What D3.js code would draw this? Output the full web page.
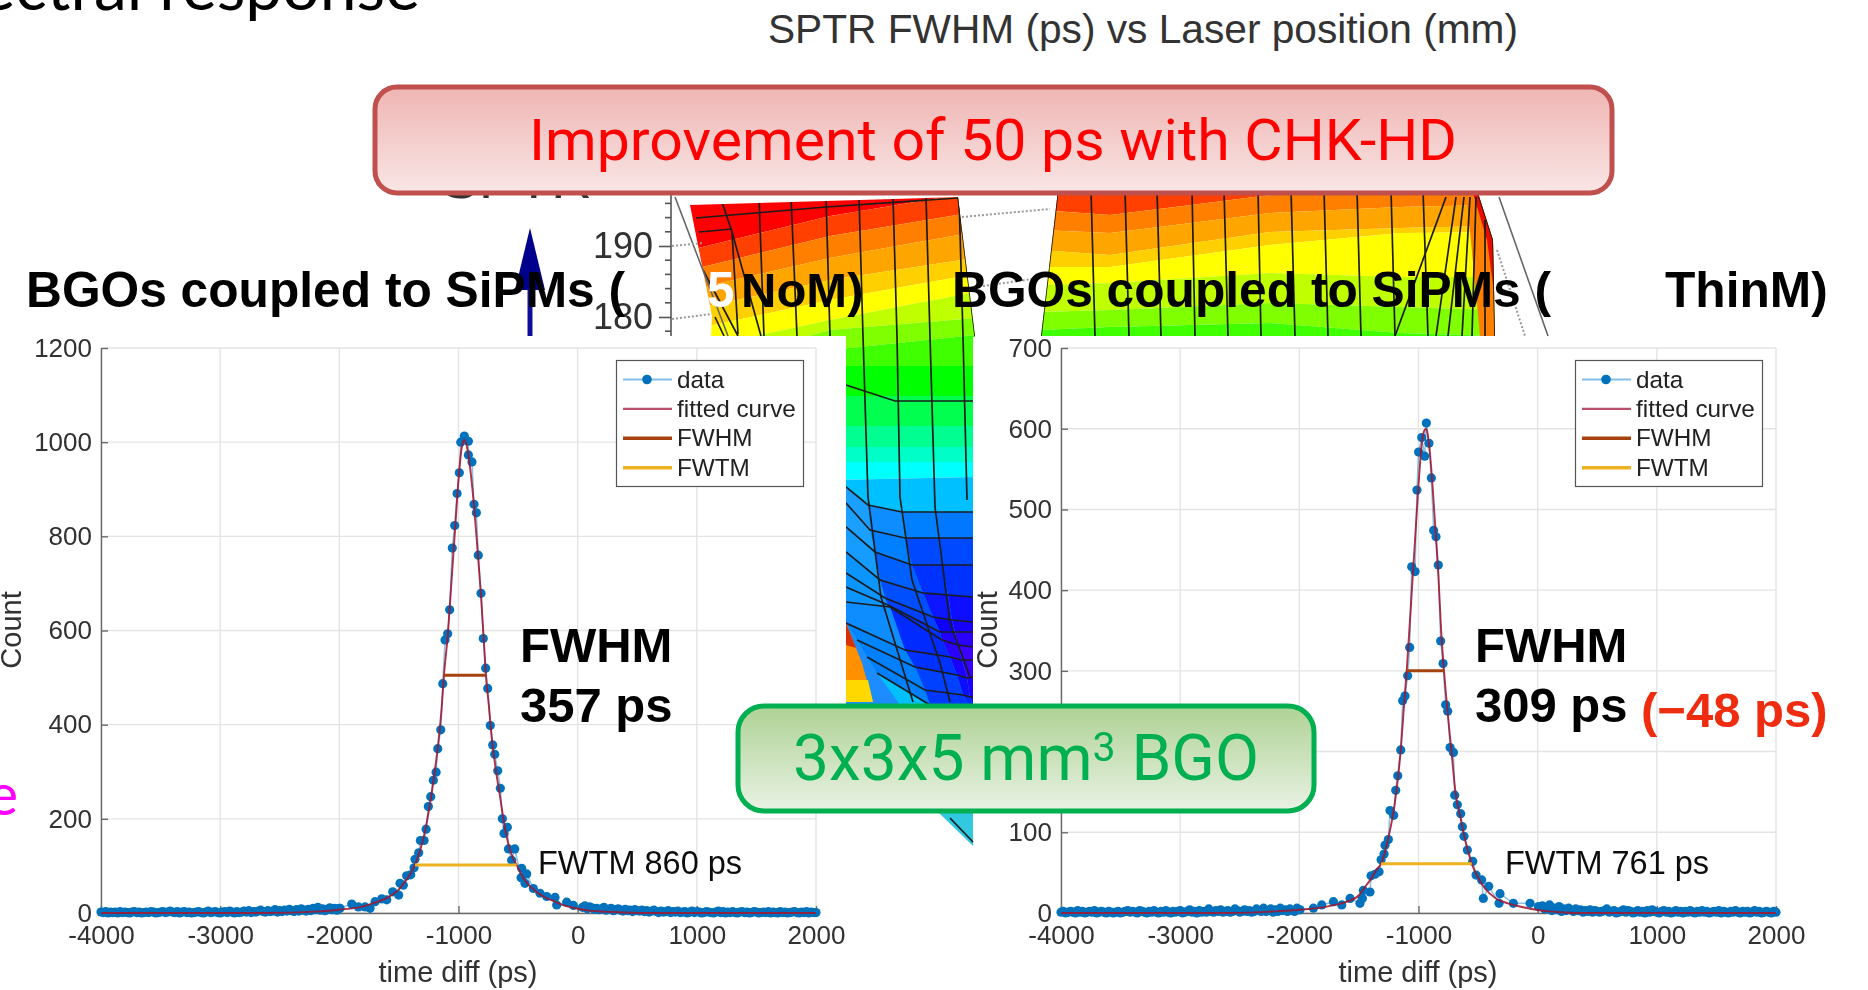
<!DOCTYPE html>
<html>
<head>
<meta charset="utf-8">
<script src="https://cdn.jsdelivr.net/npm/d3@7"></script>
<style>
  html, body { margin: 0; padding: 0; background: #fff; overflow: hidden; }
  text { font-family: "Liberation Sans", Arial, sans-serif; }
  .tick text, .axis-label { fill: #303030; }
  .boxed { font-family: Roboto, sans-serif; }
</style>
</head>
<body>
<svg id="slide" width="1868" height="990"></svg>
<script>
// ---- chart values ----
const xTicks = [-4000, -3000, -2000, -1000, 0, 1000, 2000];
const leftYTicks = [0, 200, 400, 600, 800, 1000, 1200];
const rightYTicks = [0, 100, 200, 300, 400, 500, 600, 700];
const legendLabels = ["data", "fitted curve", "FWHM", "FWTM"];

// tails are binned every 20 ps
const leftTailLow = [2,1,3,0,2,1,2,0,3,1,2,1,0,2,3,1,2,0,1,2,
  1,3,2,0,1,2,3,1,2,4,2,1,3,0,2,3,1,2,0,1,
  2,3,1,0,2,4,1,2,3,1,0,2,3,1,4,2,0,3,1,2,
  4,2,5,1,3,2,4,6,3,2,5,3,4,7,2,5,3,6,4,8,
  5,3,7,4,9,6,4,8,5,10,7,12,6,9,5,8,11,7,10,6,10];
const leftTailHigh = [12,15,9,13,11,8,10,7,9,12,6,8,10,5,7,9,6,4,8,5,
  6,3,7,5,4,6,3,5,2,4,6,3,1,4,2,3,5,1,3,2,
  4,1,2,3,0,2,4,1,3,2,0,1,3,2,1,0,2,4,1,3,
  0,2,1,3,1,0,2,3,1,2,0,1,3,2,0,1,2,1,3,0,
  2,1,0,3,1,2,0,1,2,3,1,0,2,1,3,0,2,1,1];
const rightTailLow = [1,2,0,1,2,1,0,3,1,2,0,1,2,1,3,0,1,2,1,0,
  2,1,0,1,2,0,1,2,3,1,2,1,0,3,2,1,0,2,1,3,
  1,0,2,1,3,1,0,2,1,2,3,0,1,2,4,1,2,0,3,1,
  2,1,5,2,1,3,2,4,1,2,3,1,2,5,3,1,2,4,2,3,
  1,2,5,3,2,6,2,3,5,1,4,2,6,3,4,2,5,3,2,6,4];
const rightTailHigh = [9,5,7,10,3,6,4,8,2,5,3,6,4,2,5,3,4,1,3,2,
  4,1,3,2,1,2,3,5,1,2,3,0,1,2,4,1,3,2,0,1,
  3,1,2,0,3,1,4,2,1,0,2,3,1,2,0,1,3,1,2,0,
  2,1,3,1,0,2,1,3,1,2,0,1,2,1,3,0,2,1,0,2,
  1,3,1,0,2,1,2,0,1,3,1,2,0,1,2,1,0,2,1];

const leftPeak = [[-1994,10],[-1896,19],[-1840,13],[-1784,13],[-1742,10],[-1700,24],[-1644,30],[-1602,28],[-1552,45],[-1502,38],[-1491,63],[-1463,59],[-1435,79],[-1401,81],[-1373,96],[-1365,114],[-1334,128],[-1320,154],[-1289,154],[-1272,178],[-1253,226],[-1233,247],[-1211,282],[-1188,299],[-1174,349],[-1149,389],[-1132,487],[-1113,580],[-1091,593],[-1074,644],[-1052,775],[-1032,823],[-1012,891],[-993,935],[-981,1000],[-951,1013],[-917,1002],[-917,973],[-887,958],[-870,868],[-850,850],[-834,760],[-811,679],[-792,583],[-772,520],[-755,477],[-733,398],[-713,357],[-696,337],[-671,302],[-649,265],[-632,200],[-618,169],[-590,182],[-581,136],[-554,112],[-528,136],[-475,75],[-470,95],[-442,63],[-428,83],[-372,52],[-316,42],[-260,35],[-190,33],[-176,17],[-92,23],[-36,16]];
const rightPeak = [[-1994,4],[-1882,6],[-1812,10],[-1714,14],[-1644,10],[-1574,18],[-1491,12],[-1471,18],[-1463,28],[-1407,26],[-1398,46],[-1365,48],[-1331,51],[-1314,66],[-1289,73],[-1281,84],[-1253,91],[-1239,127],[-1208,121],[-1191,152],[-1174,170],[-1149,202],[-1133,263],[-1113,269],[-1091,294],[-1074,329],[-1057,429],[-1029,423],[-1013,524],[-999,571],[-973,589],[-948,566],[-934,607],[-912,582],[-892,539],[-873,474],[-853,466],[-834,431],[-814,337],[-794,309],[-772,258],[-755,250],[-735,205],[-707,199],[-696,146],[-674,134],[-646,123],[-632,107],[-618,95],[-590,78],[-545,64],[-517,47],[-470,41],[-456,18],[-411,33],[-324,12],[-316,24],[-204,12],[-64,12],[6,8]];

const leftFit = [[-4000,0],[-2600,0],[-2200,3],[-2000,7],[-1800,14],[-1700,22],[-1600,32],[-1500,50],[-1450,66],[-1400,85],[-1365,102],[-1320,135],[-1280,175],[-1240,230],[-1200,300],[-1170,360],[-1140,440],[-1122,505],[-1090,590],[-1060,700],[-1030,810],[-1000,920],[-975,985],[-950,1005],[-925,985],[-900,940],[-870,865],[-840,770],[-810,670],[-790,590],[-770,505],[-745,440],[-720,370],[-690,310],[-650,245],[-620,195],[-580,145],[-540,115],[-512,102],[-470,80],[-420,62],[-360,48],[-280,34],[-200,25],[-100,15],[0,9],[100,5],[300,2],[600,0],[2000,0]];
const rightFit = [[-4000,0],[-2600,0],[-2200,2],[-2000,4],[-1800,7],[-1700,10],[-1600,14],[-1500,22],[-1450,32],[-1400,42],[-1350,54],[-1314,61],[-1250,95],[-1200,135],[-1150,200],[-1120,260],[-1099,300],[-1060,390],[-1030,460],[-1000,530],[-975,578],[-950,598],[-935,600],[-915,585],[-890,545],[-860,480],[-834,420],[-810,350],[-786,300],[-750,240],[-720,195],[-690,150],[-650,120],[-620,98],[-590,80],[-553,61],[-500,44],[-440,30],[-350,18],[-250,12],[-150,8],[-50,5],[100,2],[400,0],[2000,0]];

const leftFwhm = [-1122, -770], leftFwhmLevel = 505;
const leftFwtm = [-1365, -512], leftFwtmLevel = 102;
const rightFwhm = [-1099, -786], rightFwhmLevel = 300;
const rightFwtm = [-1314, -553], rightFwtmLevel = 61;

// ---- backdrop: the surface plot showing behind the two histograms ----
const surfaceOutline = [[690,205],[958,197],[975,336],[973,760],[846,760],[846,336],[711,336],[712,316]];
const surfaceOutlineRight = [[1058,190],[1477,190],[1493,240],[1495,336],[1041,336]];
const bandX = [690,830,975,1040,1110,1270,1400,1495];
const bandColors = ["#ff0000","#ff4000","#ff7f00","#ffa500","#ffd000","#ffff00","#c0ff00","#80ff00","#40ff00","#00ff00","#00ff50","#00ff90","#00ffc8","#00ffff","#00c0ff"];
const bandBottoms = [
  [250,216,192,190,190,180,180,180],
  [270,236,212,210,215,195,190,190],
  [290,258,232,230,233,213,207,205],
  [310,280,258,250,255,232,228,226],
  [330,300,274,267,267,245,233,232],
  [350,320,292,285,283,273,277,277],
  [370,330,318,312,310,303,307,310],
  [390,350,335,330,327,323,333,336],
  [410,366,366,345,345,340,350,350],
  [420,396,396,396,396,396,396,396],
  [430,426,426,426,426,426,426,426],
  [450,447,447,447,447,447,447,447],
  [465,462,462,462,462,462,462,462],
  [480,480,477,477,477,477,477,477],
  [860,860,860,860,860,860,860,860]
];
const meshRows = [
  [[846,487],[868,505],[902,512],[935,512],[973,512]],
  [[846,503],[870,530],[905,538],[938,538],[973,538]],
  [[846,527],[875,552],[912,565],[942,565],[973,565]],
  [[846,552],[880,580],[923,593],[948,595],[973,597]],
  [[846,573],[885,598],[933,617],[952,620],[973,622]],
  [[846,587],[888,605],[940,632],[955,632],[973,632]],
  [[846,602],[890,607],[942,640],[958,645],[973,647]],
  [[846,623],[905,650],[950,657],[962,660],[973,660]],
  [[857,640],[915,667],[957,675],[967,678],[973,677]],
  [[867,657],[925,690],[963,695],[970,697],[973,697]],
  [[877,673],[930,705],[968,705],[973,705],[973,705]]
];
const meshLevels = [
  [.62,.55,.5,.48],[.62,.5,.36,.36],[.6,.42,.3,.3],[.58,.38,.22,.2],[.58,.34,.16,.12],
  [.58,.3,.08,.05],[.55,.28,.06,0],[.52,.3,.1,.02],[.5,.34,.2,.1],[.5,.32,.28,.2]
];
const meshLines = [
  [[722,202],[732,232],[738,334]], [[732,232],[761,336]], [[703,270],[738,336]], [[715,317],[724,336]],
  [[696,218],[826,207],[958,198]], [[699,232],[732,229]],
  [[759,197],[764,336]], [[791,197],[797,336]], [[826,197],[830,336]],
  [[859,197],[863,336],[868,497],[881,597],[913,702]],
  [[893,197],[897,336],[900,497],[912,580],[940,663],[950,702]],
  [[926,197],[930,336],[935,507],[950,623],[970,677]],
  [[959,197],[963,336],[967,500]],
  [[958,197],[975,336]],
  [[846,385],[895,401],[973,401]],
  [[1058,190],[1041,336]],[[1091,190],[1095,336]],[[1125,190],[1129,336]],[[1157,190],[1161,336]],
  [[1192,190],[1195,336]],[[1224,190],[1228,336]],[[1258,190],[1261,336]],[[1291,190],[1295,336]],
  [[1324,190],[1328,336]],[[1357,190],[1361,336]],[[1391,190],[1395,336]],[[1423,190],[1428,336]],
  [[1446,197],[1395,336]],[[1456,197],[1436,336]],[[1464,197],[1448,336]],[[1470,197],[1462,336]],
  [[1476,197],[1472,336]],[[1485,220],[1485,336]],[[1477,190],[1493,240],[1495,336]]
];
const stubOutline = [[938,812],[973,812],[973,846]];
const stubMesh = [[950,818],[973,842]];
const cageLines = [[[675,197],[728,336]], [[1499,197],[1548,336]]];
const cageDotted = [[[672,246],[703,243]], [[672,319],[712,314]], [[962,217],[1050,209]], [[983,286],[1040,278]], [[1497,250],[1525,336]]];
const zTickLabels = ["190", "180"];
const zMajor = [190, 180];
const zMinor = [198, 196, 194, 192, 188, 186, 184, 182, 178, 176];

const svg = d3.select("#slide");
const defs = svg.append("defs");

function addGradient(id, top, bottom) {
  const g = defs.append("linearGradient").attr("id", id).attr("x1", 0).attr("y1", 0).attr("x2", 0).attr("y2", 1);
  g.append("stop").attr("offset", "0%").attr("stop-color", top);
  g.append("stop").attr("offset", "100%").attr("stop-color", bottom);
}
addGradient("redFill", "#efb5b3", "#f8e6e5");
addGradient("greenFill", "#aed294", "#e9f2e4");
defs.append("filter").attr("id", "soft").append("feGaussianBlur").attr("stdDeviation", 0.55);

const clip = defs.append("clipPath").attr("id", "surfaceClip");
const outlineLine = d3.line().curve(d3.curveLinearClosed);
clip.append("path").attr("d", outlineLine(surfaceOutline));
clip.append("path").attr("d", outlineLine(surfaceOutlineRight));

// text of the slide that sits behind everything
svg.append("text").attr("x", 420).attr("y", 10).attr("text-anchor", "end")
  .style("font-family", "Lato").style("font-size", "66px").attr("fill", "#000").text("Spectral response");
svg.append("text").attr("x", 768).attr("y", 43).attr("textLength", 750).attr("lengthAdjust", "spacingAndGlyphs")
  .style("font-size", "40px").attr("fill", "#333").text("SPTR FWHM (ps) vs Laser position (mm)");
svg.append("text").attr("x", 441).attr("y", 198).attr("textLength", 151).attr("lengthAdjust", "spacingAndGlyphs")
  .style("font-size", "56px").attr("fill", "#333").text("SPTR");

drawSurface();

function drawSurface() {
  const g = svg.append("g").attr("filter", "url(#soft)");
  const painted = g.append("g").attr("clip-path", "url(#surfaceClip)");
  const area = d3.area().x((d) => d[0]).y0((d) => d[1]).y1((d) => d[2]);

  bandColors.forEach((color, i) => {
    const top = i === 0 ? bandX.map(() => 150) : bandBottoms[i - 1];
    const rows = bandX.map((x, k) => [x, top[k], bandBottoms[i][k]]);
    painted.append("path").attr("d", area(rows)).attr("fill", color);
  });

  // right hand fold of the surface goes back to red
  painted.append("path").attr("d", outlineLine([[1466,190],[1478,190],[1495,240],[1495,336],[1480,336]])).attr("fill", "#ff8000");
  painted.append("path").attr("d", outlineLine([[1472,190],[1478,190],[1495,240],[1495,300],[1487,240]])).attr("fill", "#e81000");

  // blue facets at the bottom of the strip
  const level = d3.scaleLinear().domain([0, .15, .3, .5, .65, 1])
    .range(["#3a00ff", "#1000ff", "#0030ff", "#0080ff", "#20a8ff", "#00ffff"]);
  meshLevels.forEach((row, i) => {
    row.forEach((z, j) => {
      const corners = [meshRows[i][j], meshRows[i][j + 1], meshRows[i + 1][j + 1], meshRows[i + 1][j]];
      painted.append("path").attr("d", outlineLine(corners)).attr("fill", level(z));
    });
  });
  // left over blue below the last facet row
  painted.append("path").attr("d", outlineLine([[846,623],[877,673],[900,705],[846,705]])).attr("fill", "#1a8cff");

  // orange fold at the bottom left
  painted.append("path").attr("d", outlineLine([[846,623],[862,663],[873,702],[846,702]])).attr("fill", "#ff9000");
  painted.append("path").attr("d", outlineLine([[846,680],[868,680],[873,702],[846,702]])).attr("fill", "#ffd800");
  painted.append("path").attr("d", outlineLine([[846,623],[856,648],[846,645]])).attr("fill", "#d83000");

  const line = d3.line();
  const mesh = painted.append("g").attr("fill", "none").attr("stroke", "#1c1c1c").attr("stroke-width", 1.7);
  meshLines.forEach((d) => mesh.append("path").attr("d", line(d)));
  meshRows.forEach((d) => mesh.append("path").attr("d", line(d)));

  const cage = g.append("g").attr("fill", "none").attr("stroke", "#666");
  cageLines.forEach((d) => cage.append("path").attr("d", line(d)).attr("stroke-width", 1.6));
  cageDotted.forEach((d) => cage.append("path").attr("d", line(d)).attr("stroke-dasharray", "2,2").attr("stroke-width", 2).attr("stroke", "#999"));

  // z axis of the surface plot and its arrow
  const zScale = d3.scaleLinear().domain([180, 190]).range([317, 246]);
  const zAxis = d3.axisLeft(zScale).tickValues(zMajor).tickFormat((d, i) => zTickLabels[i]).tickSize(12).tickPadding(6);
  const zg = g.append("g").attr("transform", "translate(671,0)").call(zAxis);
  zg.select(".domain").remove();
  zg.selectAll("line").attr("stroke", "#555").attr("stroke-width", 1.6);
  zg.selectAll("text").style("font-size", "36px").attr("fill", "#333");
  g.append("line").attr("x1", 671).attr("x2", 671).attr("y1", 190).attr("y2", 336).attr("stroke", "#555").attr("stroke-width", 1.6);
  g.selectAll(".zminor").data(zMinor).join("line").attr("class", "zminor")
    .attr("x1", 665).attr("x2", 671).attr("y1", zScale).attr("y2", zScale).attr("stroke", "#555").attr("stroke-width", 1.6);

  g.append("path").attr("d", outlineLine([[530,228],[545,290],[515,290]])).attr("fill", "#00008c");
  g.append("rect").attr("x", 527.5).attr("y", 288).attr("width", 5).attr("height", 48).attr("fill", "#10109c");
}

// white backing of the two histograms
svg.append("rect").attr("x", 0).attr("y", 337).attr("width", 846).attr("height", 653).attr("fill", "#fff");
svg.append("rect").attr("x", 973).attr("y", 337).attr("width", 895).attr("height", 653).attr("fill", "#fff");

// piece of the surface that sticks out under the green box
const stub = svg.append("g").attr("filter", "url(#soft)");
stub.append("path").attr("d", outlineLine(stubOutline)).attr("fill", "#30c8e0");
stub.append("path").attr("d", d3.line()(stubMesh)).attr("stroke", "#1c1c1c").attr("stroke-width", 1.7);

// the magenta letter is on the slide, above the white backing
svg.append("text").attr("x", 18).attr("y", 815).attr("text-anchor", "end")
  .style("font-family", "Lato").style("font-size", "58px").attr("fill", "#ff00ff").text("e");

function binned(values, start) {
  return values.map((v, i) => [start + i * 20, v]);
}

function drawPlot(cfg) {
  const xScale = d3.scaleLinear().domain([-4000, 2000]).range([cfg.left, cfg.left + 715]);
  const yScale = d3.scaleLinear().domain([0, cfg.yMax]).range([913, 348]);
  const g = svg.append("g").attr("filter", "url(#soft)");

  // grid
  g.selectAll(".gx").data(xTicks).join("line").attr("class", "gx")
    .attr("x1", xScale).attr("x2", xScale).attr("y1", yScale(0)).attr("y2", yScale(cfg.yMax))
    .attr("stroke", "#e4e4e4").attr("stroke-width", 1.4);
  g.selectAll(".gy").data(cfg.yTicks).join("line").attr("class", "gy")
    .attr("x1", xScale(-4000)).attr("x2", xScale(2000)).attr("y1", yScale).attr("y2", yScale)
    .attr("stroke", "#e4e4e4").attr("stroke-width", 1.4);

  const xAxis = g.append("g").attr("transform", "translate(0,913)")
    .call(d3.axisBottom(xScale).tickValues(xTicks).tickFormat((d) => d).tickSizeInner(-7).tickSizeOuter(0).tickPadding(13));
  const yAxis = g.append("g").attr("transform", `translate(${cfg.left},0)`)
    .call(d3.axisLeft(yScale).tickValues(cfg.yTicks).tickFormat((d) => d).tickSizeInner(-7).tickSizeOuter(0).tickPadding(9));
  [xAxis, yAxis].forEach((a) => {
    a.selectAll("text").style("font-size", "26px").attr("fill", "#303030");
    a.selectAll("line, path").attr("stroke", "#6a6a6a").attr("stroke-width", 1.4);
  });

  g.append("text").attr("class", "axis-label").attr("x", cfg.left + 357).attr("y", 982)
    .attr("text-anchor", "middle").style("font-size", "29px").text("time diff (ps)");
  g.append("text").attr("class", "axis-label")
    .attr("transform", `translate(${cfg.countX},630) rotate(-90)`)
    .attr("text-anchor", "middle").style("font-size", "29px").text("Count");

  const points = [...binned(cfg.tailLow, -4000), ...cfg.peak, ...binned(cfg.tailHigh, 40)];
  const line = d3.line().x((d) => xScale(d[0])).y((d) => yScale(d[1]));

  g.append("path").datum(points).attr("d", line).attr("fill", "none")
    .attr("stroke", "#0072bd").attr("stroke-opacity", .45).attr("stroke-width", 1.5);
  g.selectAll(".pt").data(points).join("circle").attr("class", "pt")
    .attr("cx", (d) => xScale(d[0])).attr("cy", (d) => yScale(d[1])).attr("r", 4.6).attr("fill", "#0072bd");
  g.append("path").datum(cfg.fit).attr("d", line.curve(d3.curveMonotoneX)).attr("fill", "none")
    .attr("stroke", "#a2142f").attr("stroke-opacity", .88).attr("stroke-width", 1.9);

  g.append("line").attr("x1", xScale(cfg.fwhm[0])).attr("x2", xScale(cfg.fwhm[1]))
    .attr("y1", yScale(cfg.fwhmLevel)).attr("y2", yScale(cfg.fwhmLevel)).attr("stroke", "#a5420f").attr("stroke-width", 3);
  g.append("line").attr("x1", xScale(cfg.fwtm[0])).attr("x2", xScale(cfg.fwtm[1]))
    .attr("y1", yScale(cfg.fwtmLevel)).attr("y2", yScale(cfg.fwtmLevel)).attr("stroke", "#edb120").attr("stroke-width", 3);

  // legend
  const lg = g.append("g").attr("transform", `translate(${cfg.legendX},360)`);
  lg.append("rect").attr("x", .5).attr("y", .5).attr("width", 187).attr("height", 126)
    .attr("fill", "#fff").attr("stroke", "#555").attr("stroke-width", 1.2);
  const swatch = [
    { stroke: "#84bde8", w: 2.2 }, { stroke: "#b9506c", w: 2.4 }, { stroke: "#a5420f", w: 3.5 }, { stroke: "#edb120", w: 3.5 }
  ];
  legendLabels.forEach((label, i) => {
    const ly = 19.5 + i * 29.4;
    lg.append("line").attr("x1", 7).attr("x2", 56).attr("y1", ly).attr("y2", ly)
      .attr("stroke", swatch[i].stroke).attr("stroke-width", swatch[i].w);
    lg.append("text").attr("x", 61).attr("y", ly + 8).style("font-size", "24.3px").attr("fill", "#222").text(label);
  });
  lg.append("circle").attr("cx", 31).attr("cy", 19.5).attr("r", 4.8).attr("fill", "#0072bd");

  g.append("text").attr("x", cfg.noteX).attr("y", 874).style("font-size", "32.5px").attr("fill", "#111")
    .text(cfg.fwtmNote);
}

drawPlot({
  left: 101, yMax: 1200, yTicks: leftYTicks, countX: 21, legendX: 616, noteX: 538,
  tailLow: leftTailLow, tailHigh: leftTailHigh, peak: leftPeak, fit: leftFit,
  fwhm: leftFwhm, fwhmLevel: leftFwhmLevel, fwtm: leftFwtm, fwtmLevel: leftFwtmLevel,
  fwtmNote: "FWTM 860 ps"
});
drawPlot({
  left: 1061, yMax: 700, yTicks: rightYTicks, countX: 997, legendX: 1575, noteX: 1505,
  tailLow: rightTailLow, tailHigh: rightTailHigh, peak: rightPeak, fit: rightFit,
  fwhm: rightFwhm, fwhmLevel: rightFwhmLevel, fwtm: rightFwtm, fwtmLevel: rightFwtmLevel,
  fwtmNote: "FWTM 761 ps"
});

// bold notes and titles
function bold(x, y, size, color, str) {
  return svg.append("text").attr("x", x).attr("y", y).style("font-size", size + "px")
    .style("font-weight", "bold").attr("fill", color).text(str);
}
bold(26, 306.5, 49.7, "#000", "BGOs coupled to SiPMs (");
bold(707, 306.5, 49.5, "#fff", "5");
bold(741, 306.5, 49, "#000", "NoM)");
bold(952, 306.5, 49.7, "#000", "BGOs coupled to SiPMs (");
bold(1665, 306.5, 49.7, "#000", "ThinM)");
bold(520, 662, 49, "#000", "FWHM");
bold(520, 722, 49, "#000", "357 ps");
bold(1475, 662, 49, "#000", "FWHM");
bold(1475, 722, 49, "#000", "309 ps");
bold(1641, 727, 49, "#ee2c10", "(−48 ps)");

// the two call out boxes
svg.append("rect").attr("x", 375).attr("y", 87).attr("width", 1237).attr("height", 106).attr("rx", 22)
  .attr("fill", "url(#redFill)").attr("stroke", "#c0504d").attr("stroke-width", 5);
svg.append("text").attr("class", "boxed").attr("x", 529).attr("y", 160).attr("textLength", 928)
  .attr("lengthAdjust", "spacingAndGlyphs").style("font-size", "58px").attr("fill", "#ff0000")
  .text("Improvement of 50 ps with CHK-HD");

svg.append("rect").attr("x", 738).attr("y", 706).attr("width", 576).attr("height", 105).attr("rx", 26)
  .attr("fill", "url(#greenFill)").attr("stroke", "#00b050").attr("stroke-width", 5);
const boxText = svg.append("text").attr("class", "boxed").attr("x", 793).attr("y", 780)
  .style("font-size", "64px").attr("fill", "#00b050");
boxText.append("tspan").text("3x3x5 mm");
boxText.append("tspan").attr("dy", -19).style("font-size", "41px").text("3");
boxText.append("tspan").attr("dy", 19).text(" BGO");
</script>
</body>
</html>
